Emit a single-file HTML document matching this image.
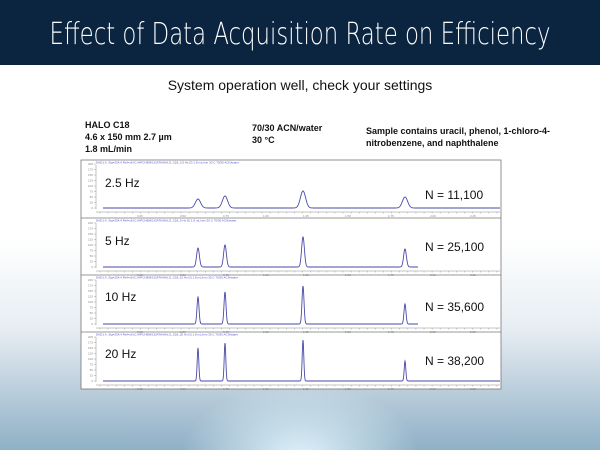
<!DOCTYPE html>
<html><head><meta charset="utf-8"><style>
body{margin:0;width:600px;height:450px;overflow:hidden;font-family:"Liberation Sans",sans-serif;position:relative;
background:radial-gradient(ellipse 120px 80px at 300px 460px,rgba(230,248,255,0.95),rgba(200,230,245,0) 100%),linear-gradient(to bottom,#fff 0,#fff 240px,#e6edf2 330px,#b4c9d8 400px,#8fb0c6 450px);}
.hdr{position:absolute;left:0;top:0;width:600px;height:65px;background:#0b2540;}
.ttl{position:absolute;left:300px;top:17px;color:#fff;font-size:30px;white-space:nowrap;font-family:"DejaVu Sans",sans-serif;font-weight:200;transform:translateX(-50%) scaleX(0.76);transform-origin:center;line-height:36px}
.t{position:absolute;white-space:nowrap}
.b{font-weight:bold;font-size:9px;line-height:12px;color:#111}
</style></head><body>
<div class="hdr"></div>
<div class="ttl">Effect of Data Acquisition Rate on Efficiency</div>
<div class="t" style="left:0;width:600px;text-align:center;top:77px;font-size:14px;color:#111">System operation well, check your settings</div>
<div class="t b" style="left:85px;top:119px">HALO C18<br>4.6 x 150 mm 2.7 µm<br>1.8 mL/min</div>
<div class="t b" style="left:252px;top:122px">70/30 ACN/water<br>30 °C</div>
<div class="t b" style="left:366px;top:125px">Sample contains uracil, phenol, 1-chloro-4-<br>nitrobenzene, and naphthalene</div>
<svg id="s" width="600" height="450" style="position:absolute;left:0;top:0"></svg>
<script>
const s=document.getElementById('s');let h='';
const panels=[
 {top:160,base:208,sig:2.6,hs:[9,12,17,11],end:500,lab:'2.5 Hz',N:'N = 11,100',ly:183,ny:195},
 {top:218,base:267,sig:1.4,hs:[19,22,30,18],end:418,lab:'5 Hz',N:'N = 25,100',ly:241,ny:247},
 {top:275,base:324,sig:1.0,hs:[27,32,38,20],end:418,lab:'10 Hz',N:'N = 35,600',ly:297,ny:307},
 {top:332,base:381,sig:0.8,hs:[33,38,41,20],end:500,lab:'20 Hz',N:'N = 38,200',ly:354,ny:361}];
const xs=[198,225,303,405];
h+='<rect x="81" y="160" width="420" height="229" fill="#fff" stroke="#777" stroke-width="0.8"/>';
panels.forEach((p,i)=>{
 if(i>0)h+=`<line x1="81" x2="501" y1="${p.top}" y2="${p.top}" stroke="#777" stroke-width="0.8"/>`;
 h+=`<text x="96" y="${p.top+3.5}" font-size="3" fill="#55c">DAD1 A, Sig=254,4 Ref=off (C:\\HPCHEM\\1\\DATA\\HALO_C18_${p.lab}.D) 1.8 mL/min 30 C 70/30 ACN/water</text>`;
 h+=`<line x1="96" x2="96" y1="${p.top+5}" y2="${p.base+1}" stroke="#888" stroke-width="0.5"/>`;
 for(let k=0;k<9;k++){let y=p.base-k*5.5;h+=`<line x1="94" x2="96" y1="${y}" y2="${y}" stroke="#888" stroke-width="0.4"/><text x="93" y="${y+1}" font-size="3" fill="#888" text-anchor="end">${k*25}</text>`;}
 const ay=p.base+4;h+=`<line x1="96" x2="500" y1="${ay}" y2="${ay}" stroke="#888" stroke-width="0.5"/>`;
 for(let x=100;x<500;x+=8.1){h+=`<line x1="${x}" x2="${x}" y1="${ay}" y2="${ay+1.5}" stroke="#888" stroke-width="0.4"/>`;}
 [137,180,223,263,303,345,388,430,470].forEach((x,j)=>h+=`<text x="${x}" y="${ay+5}" font-size="3" fill="#888">${(j*0.25+0.25).toFixed(2)}</text>`);
 let d='';for(let x=103;x<=p.end;x+=0.25){let y=p.base;xs.forEach((c,j)=>{y-=p.hs[j]*Math.exp(-((x-c)**2)/(2*p.sig*p.sig));});d+=(d?'L':'M')+x.toFixed(2)+','+y.toFixed(2);}
 h+=`<path d="${d}" fill="none" stroke="#4a4aa8" stroke-width="0.9"/>`;
 h+=`<text x="105" y="${p.ly+4}" font-size="12" fill="#111">${p.lab}</text>`;
 h+=`<text x="425" y="${p.ny+4}" font-size="12" fill="#111">${p.N}</text>`;
});
s.innerHTML=h;
</script>
</body></html>
